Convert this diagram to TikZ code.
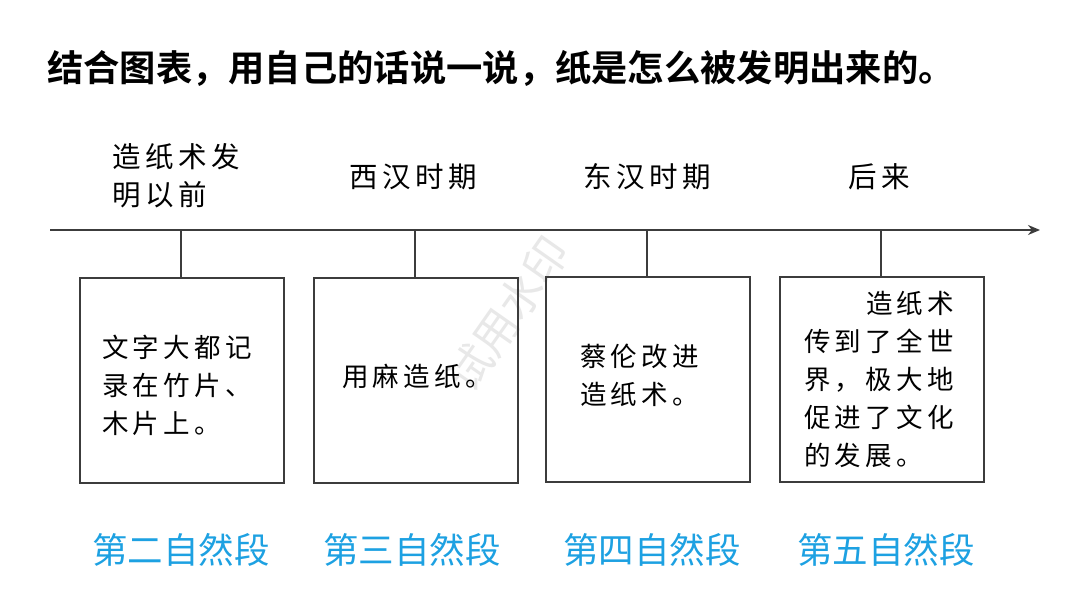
\documentclass[tikz,border=0pt]{standalone}
\usepackage{fontspec}
\newfontfamily\cjk{Noto Sans CJK SC}
\newfontfamily\cjks[LetterSpace=16]{Noto Sans CJK SC}
\newfontfamily\cjkb{Noto Sans CJK SC Bold}
\usetikzlibrary{arrows.meta}
\definecolor{pblue}{RGB}{29,161,226}
\definecolor{lgray}{RGB}{60,60,60}
\tikzset{
  evbox/.style={draw=lgray, line width=1.5pt, minimum width=204pt, minimum height=205pt, inner sep=0pt},
  eralabel/.style={font={\cjks\fontsize{28.5}{38}\selectfont}, align=left, inner sep=0pt, anchor=west},
  boxtext/.style={font={\cjks\fontsize{26.5}{38}\selectfont}, align=left, inner sep=0pt, anchor=west},
  para/.style={font={\cjk\fontsize{35.5}{40}\selectfont}, text=pblue, inner sep=0pt},
  tick/.style={draw=lgray, line width=1.3pt}
}
\begin{document}
\begin{tikzpicture}[x=1pt,y=-1pt]
\useasboundingbox[fill=white] (0,0) rectangle (1080,608);
% watermark (behind everything)
\node[font={\cjk\fontsize{44}{44}\selectfont}, text=black!9, rotate=55] (wm) at (508,314) {试用水印};
\node[anchor=west, inner sep=0pt, font={\cjkb\fontsize{36.3}{40}\selectfont}] (title) at (47,68) {结合图表，用自己的话说一说，纸是怎么被发明出来的。};
% timeline
\coordinate (tl0) at (50,230);
\coordinate (tl1) at (1040,230);
\draw[lgray, line width=1.5pt, -{Stealth[length=12pt,width=10pt]}] (tl0) -- (tl1);
% boxes
\node[evbox, anchor=north west] (b1) at (79,277) {};
\node[evbox, anchor=north west] (b2) at (313,277) {};
\node[evbox, anchor=north west] (b3) at (545,276) {};
\node[evbox, anchor=north west] (b4) at (779,276) {};
\coordinate (t1) at (181,230);
\coordinate (t2) at (415,230);
\coordinate (t3) at (647,230);
\coordinate (t4) at (881,230);
\draw[tick] (t1) -- (t1 |- b1.north);
\draw[tick] (t2) -- (t2 |- b2.north);
\draw[tick] (t3) -- (t3 |- b3.north);
\draw[tick] (t4) -- (t4 |- b4.north);
% era labels
\node[eralabel] (e1) at (112,176) {造纸术发\\明以前};
\node[eralabel] (e2) at (349,177) {西汉时期};
\node[eralabel] (e3) at (583,177) {东汉时期};
\node[eralabel] (e4) at (848,177) {后来};
% box texts
\node[boxtext] (x1) at (102,385) {文字大都记\\录在竹片、\\木片上。};
\node[boxtext] (x2) at (342,376) {用麻造纸。};
\node[boxtext] (x3) at (580,375) {蔡伦改进\\造纸术。};
\node[boxtext] (x4) at (804,379) {\hspace{62pt}造纸术\\传到了全世\\界，极大地\\促进了文化\\的发展。};
% paragraph labels
\node[para] (p1) at (181,550) {第二自然段};
\node[para] (p2) at (412,550) {第三自然段};
\node[para] (p3) at (652,550) {第四自然段};
\node[para] (p4) at (886,550) {第五自然段};
\end{tikzpicture}
\end{document}
